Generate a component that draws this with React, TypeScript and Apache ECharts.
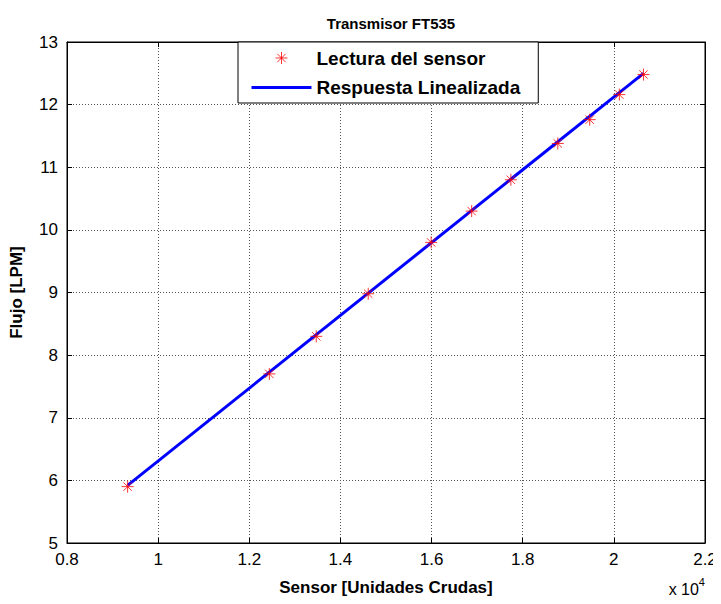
import React, { useEffect, useRef } from "react";
import * as echarts from "echarts";

const sensorX = [9330, 12440, 13470, 14610, 15990, 16880, 17740, 18770, 19470, 20120, 20650];
const flowY = [5.9, 7.7, 8.3, 8.98, 9.8, 10.3, 10.8, 11.38, 11.76, 12.16, 12.48];
const fitX = [9330, 20650];
const fitY = [5.92, 12.5];

const FONT = "Liberation Sans, Arial, sans-serif";
const STAR = "path://M0,-6L0,6M-6,0L6,0M-4.2,-4.2L4.2,4.2M-4.2,4.2L4.2,-4.2";
const LINE_ICON = "path://M0,0L0,0.01M0,8H60V11H0ZM60,19L60,19.01";
const STAR_ICON = "path://M0,0L0,0.01M60,19L60,19.01M30,3.5L30,15.5M24,9.5L36,9.5M25.8,5.3L34.2,13.7M25.8,13.7L34.2,5.3";

export default function App() {
  const ref = useRef<HTMLDivElement>(null);
  useEffect(() => {
    if (!ref.current) return;
    const chart = echarts.init(ref.current, undefined, { renderer: "svg" });
    const fmtX = (v: number) => String(+(v / 10000).toFixed(1));
    const gridLine = { show: true, lineStyle: { color: "#555", type: [1, 2] as any, width: 1 } };
    const option: any = {
      animation: false,
      backgroundColor: "#fff",
      title: {
        text: "Transmisor FT535",
        left: 386,
        textAlign: "center",
        top: 11,
        textStyle: { fontFamily: FONT, fontSize: 15, fontWeight: "bold", color: "#000" },
      },
      grid: { left: 67, right: 16, top: 42, bottom: 61, show: true, borderColor: "#000", borderWidth: 1 },
      legend: {
        left: 238,
        top: 42,
        orient: "vertical",
        itemWidth: 60,
        itemHeight: 19,
        itemGap: 10,
        padding: [6, 18, 6, 13],
        borderColor: "#000",
        borderWidth: 1,
        backgroundColor: "#fff",
        textStyle: { fontFamily: FONT, fontSize: 19, fontWeight: "bold", color: "#000" },
        data: [
          {
            name: "Lectura del sensor",
            icon: STAR_ICON,
            itemStyle: { color: "rgba(0,0,0,0)", borderColor: "#ff0000", borderWidth: 1 },
          },
          {
            name: "Respuesta Linealizada",
            icon: LINE_ICON,
            itemStyle: { color: "#0000ff", borderWidth: 0 },
            lineStyle: { width: 0 },
          },
        ],
      },
      xAxis: [
        {
          type: "value",
          min: 8000,
          max: 22000,
          interval: 2000,
          name: "Sensor [Unidades Crudas]",
          nameLocation: "middle",
          nameGap: 36,
          nameTextStyle: { fontFamily: FONT, fontSize: 17, fontWeight: "bold", color: "#000" },
          axisLine: { show: true, onZero: false, lineStyle: { color: "#000", width: 1 } },
          axisTick: { show: true, inside: true, length: 5, lineStyle: { color: "#000" } },
          axisLabel: { formatter: fmtX, fontFamily: FONT, fontSize: 17, color: "#000", margin: 8 },
          splitLine: gridLine,
        },
        {
          type: "value",
          position: "top",
          min: 8000,
          max: 22000,
          interval: 2000,
          axisLine: { show: true, onZero: false, lineStyle: { color: "#000", width: 1 } },
          axisTick: { show: true, inside: true, length: 5, lineStyle: { color: "#000" } },
          axisLabel: { show: false },
          splitLine: { show: false },
        },
      ],
      yAxis: [
        {
          type: "value",
          min: 5,
          max: 13,
          interval: 1,
          name: "Flujo [LPM]",
          nameLocation: "middle",
          nameGap: 42,
          nameTextStyle: { fontFamily: FONT, fontSize: 17, fontWeight: "bold", color: "#000" },
          axisLine: { show: true, onZero: false, lineStyle: { color: "#000", width: 1 } },
          axisTick: { show: true, inside: true, length: 5, lineStyle: { color: "#000" } },
          axisLabel: { fontFamily: FONT, fontSize: 17, color: "#000", margin: 9 },
          splitLine: gridLine,
        },
        {
          type: "value",
          position: "right",
          min: 5,
          max: 13,
          interval: 1,
          axisLine: { show: true, onZero: false, lineStyle: { color: "#000", width: 1 } },
          axisTick: { show: true, inside: true, length: 5, lineStyle: { color: "#000" } },
          axisLabel: { show: false },
          splitLine: { show: false },
        },
      ],
      graphic: [
        {
          type: "text",
          right: 16,
          top: 576,
          style: {
            text: "x 10{sup|4}",
            fontFamily: FONT,
            fontSize: 16,
            fill: "#000",
            rich: { sup: { fontSize: 11, verticalAlign: "top", padding: [0, 0, 16, 0], fontFamily: FONT, fill: "#000" } },
          },
        },
      ],
      series: [
        {
          name: "Respuesta Linealizada",
          type: "line",
          data: fitX.map((x, i) => [x, fitY[i]]),
          showSymbol: false,
          symbol: "none",
          lineStyle: { color: "#0000ff", width: 3 },
          itemStyle: { color: "#0000ff" },
          z: 2,
        },
        {
          name: "Lectura del sensor",
          type: "scatter",
          data: sensorX.map((x, i) => [x, flowY[i]]),
          symbol: STAR,
          symbolSize: 12,
          itemStyle: { color: "rgba(0,0,0,0)", borderColor: "#ff0000", borderWidth: 1 },
          z: 3,
        },
      ],
    };
    chart.setOption(option);
    return () => chart.dispose();
  }, []);
  return <div ref={ref} style={{ width: 721, height: 604, margin: -8 }} />;
}
